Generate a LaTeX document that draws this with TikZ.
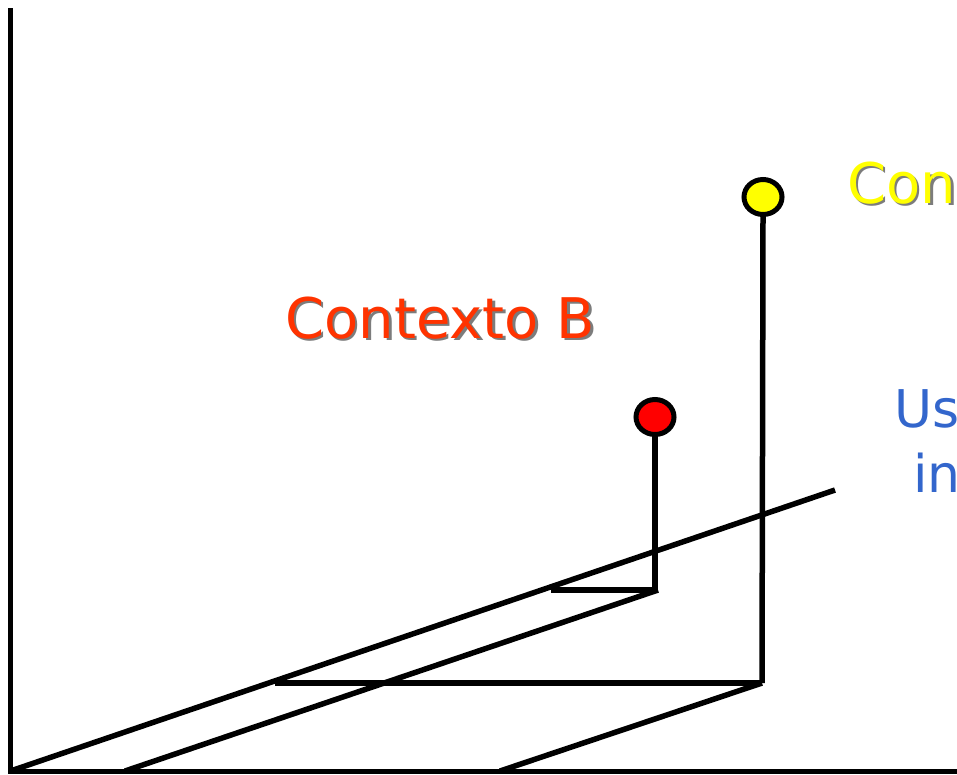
\documentclass[tikz,border=0pt]{standalone}
\usepackage{fontspec}
\setmainfont{DejaVu Sans}
\usetikzlibrary{shapes.geometric}
\definecolor{ctxred}{HTML}{FF3300}
\definecolor{ctxyellow}{HTML}{FFFF00}
\definecolor{ctxblue}{HTML}{3366CC}
\definecolor{shadowgray}{HTML}{444444}
\tikzset{
  axis/.style={line width=5pt, line cap=rect},
  ray/.style={line width=5.5pt},
  dot/.style={ellipse, draw=black, line width=5pt, minimum width=38pt, minimum height=35pt, inner sep=0pt},
  bigtext/.style={font=\fontsize{56}{60}\selectfont, anchor=base west, inner sep=0pt},
  bluetext/.style={font=\fontsize{52}{60}\selectfont, anchor=base west, inner sep=0pt, text=ctxblue},
}
\begin{document}
\begin{tikzpicture}[x=1pt,y=-1pt]
\useasboundingbox (0,0) rectangle (957,774);
\clip (0,0) rectangle (957,774);
% axes
\coordinate (O) at (10.5,771);
\coordinate (ytop) at (10.5,10);
\coordinate (xend) at (960,771);
\draw[axis] (ytop) -- (O) -- (xend);
% plane lines
\coordinate (l1end) at (835,490);
\coordinate (l2start) at (125,771);
\coordinate (l2end) at (658,590);
\coordinate (l3start) at (500,771);
\coordinate (pA) at (762,683);
\coordinate (h1start) at (275,683);
\coordinate (h2start) at (551,590);
\coordinate (pB) at (655,590);
\draw[ray] (O) -- (l1end);
\draw[ray] (l2start) -- (l2end);
\draw[ray] (l3start) -- (pA);
\draw[ray] (h1start) -- (pA);
\draw[ray] (h2start) -- (l2end);
% points
\node[dot, fill=ctxyellow] (ya) at (763,197) {};
\node[dot, fill=red] (rb) at (655,417) {};
\draw[ray] (pA) -- (ya.south);
\draw[ray] (pB) -- (rb.south);
% texts with shadow
\node[bigtext, text=shadowgray, opacity=0.7] at (287.5,340.5) {Contexto B};
\node[bigtext, text=ctxred] (tb) at (285,338) {Contexto B};
\node[bigtext, text=shadowgray, opacity=0.7] at (849.5,205.5) {Contexto A};
\node[bigtext, text=ctxyellow] (ta) at (847,203) {Contexto A};
\node[bluetext] (tu1) at (894,427) {Usando};
\node[bluetext] (tu2) at (913,492) {información};
\end{tikzpicture}
\end{document}
